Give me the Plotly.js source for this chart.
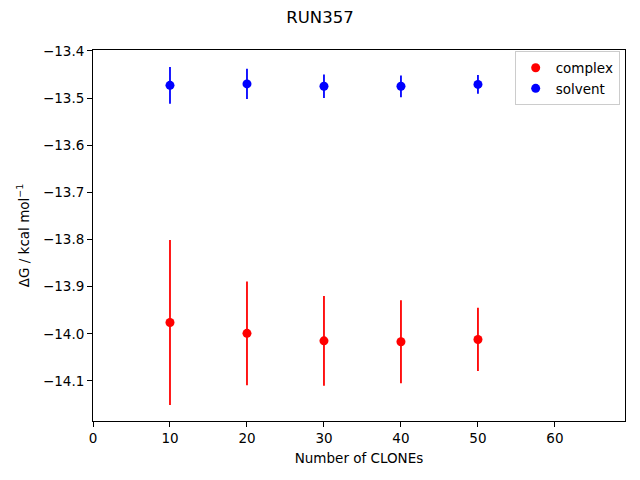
<!DOCTYPE html>
<html>
<head>
<meta charset="utf-8">
<script src="https://cdn.plot.ly/plotly-3.0.1.min.js"></script>
<style>html,body{margin:0;padding:0;background:#fff;}#chart{width:640px;height:480px;}</style>
</head>
<body>
<div id="chart"></div>
<script>
const clones = [10, 20, 30, 40, 50];
const complexDG = [-13.976, -13.999, -14.015, -14.017, -14.012];
const complexErr = [0.175, 0.110, 0.095, 0.088, 0.067];
const solventDG = [-13.473, -13.470, -13.475, -13.475, -13.471];
const solventErr = [0.039, 0.032, 0.025, 0.023, 0.020];

const font = {family: 'DejaVu Sans', size: 13.5, color: '#000'};

const traces = [
  {
    x: clones, y: complexDG, name: 'complex', type: 'scatter', mode: 'markers',
    marker: {color: '#ff0000', size: 9},
    error_y: {type: 'data', array: complexErr, visible: true, color: '#ff0000', thickness: 1.8, width: 0}
  },
  {
    x: clones, y: solventDG, name: 'solvent', type: 'scatter', mode: 'markers',
    marker: {color: '#0000ff', size: 9},
    error_y: {type: 'data', array: solventErr, visible: true, color: '#0000ff', thickness: 1.8, width: 0}
  }
];

const layout = {
  width: 640, height: 480,
  margin: {l: 93, r: 15, t: 50, b: 59, pad: 0},
  paper_bgcolor: '#fff', plot_bgcolor: '#fff',
  font: font,
  title: {text: 'RUN357', font: {family: 'DejaVu Sans', size: 16.5, color: '#000'}, x: 0.5, xanchor: 'center', y: 0.965, yanchor: 'middle'},
  showlegend: true,
  legend: {x: 0.99, y: 0.996, xanchor: 'right', yanchor: 'top', bordercolor: '#cccccc', borderwidth: 1, bgcolor: 'rgba(255,255,255,0.8)', font: font, itemwidth: 30, tracegroupgap: 0},
  xaxis: {
    range: [0, 69.1], tickvals: [0, 10, 20, 30, 40, 50, 60], ticks: 'outside', ticklen: 5, tickwidth: 1, tickcolor: '#000',
    showgrid: false, zeroline: false, showline: true, linecolor: '#000', linewidth: 1, mirror: true,
    title: {text: 'Number of CLONEs', font: font, standoff: 8}, tickfont: font
  },
  yaxis: {
    range: [-14.185, -13.398], tickvals: [-14.1, -14.0, -13.9, -13.8, -13.7, -13.6, -13.5, -13.4], tickformat: '.1f',
    ticks: 'outside', ticklen: 5, tickwidth: 1, tickcolor: '#000',
    showgrid: false, zeroline: false, showline: true, linecolor: '#000', linewidth: 1, mirror: true,
    title: {text: 'ΔG / kcal mol<sup>−1</sup>', font: font, standoff: 10}, tickfont: font
  }
};

Plotly.newPlot('chart', traces, layout, {displayModeBar: false, staticPlot: true});
</script>
</body>
</html>
